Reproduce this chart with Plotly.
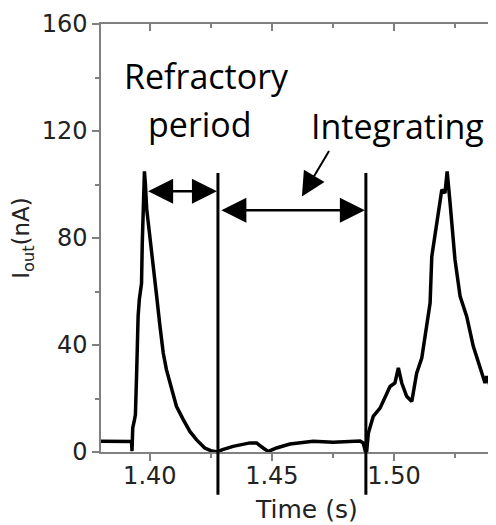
import plotly.graph_objects as go

# ---- data ----
time_s = [1.3780, 1.3850, 1.3915, 1.3925, 1.3927, 1.3930, 1.3937, 1.3941, 1.3946, 1.3949,
          1.3952, 1.3957, 1.3962, 1.3966, 1.3969, 1.3973, 1.3976, 1.3978, 1.3982, 1.3987,
          1.4000, 1.4014, 1.4028, 1.4041, 1.4055, 1.4068, 1.4089, 1.4109, 1.4137, 1.4164,
          1.4191, 1.4225, 1.4250, 1.4277,
          1.4295, 1.4341, 1.4410, 1.4437, 1.4464, 1.4485, 1.4519, 1.4574, 1.4669,
          1.4751, 1.4861, 1.4874, 1.4883, 1.4888, 1.4895, 1.4915, 1.4943, 1.4970, 1.4984,
          1.5004, 1.5018, 1.5032, 1.5052, 1.5073, 1.5093, 1.5114, 1.5134, 1.5148, 1.5155,
          1.5175, 1.5196, 1.5209, 1.5218, 1.5230, 1.5250, 1.5271, 1.5298, 1.5325, 1.5353,
          1.5373, 1.5380, 1.5400, 1.5418, 1.5434]
current_nA = [4.0, 4.1, 4.0, 3.9, 0.3, 9.0, 12.0, 14.0, 29.5, 42.0,
              50.7, 57.0, 59.5, 63.0, 78.0, 90.6, 92.0, 104.9, 100.0, 91.0,
              80.6, 68.2, 58.2, 47.5, 37.0, 30.8, 23.3, 17.1, 12.1, 7.7,
              4.6, 1.5, 0.5, 0.0,
              0.8, 2.1, 3.4, 3.4, 1.5, 0.2, 1.5, 3.0, 4.0,
              3.6, 4.1, 3.4, 0.2, 0.0, 7.0, 13.3, 16.4, 22.0, 24.5,
              25.8, 31.4, 25.8, 20.8, 18.9, 29.5, 35.1, 47.0, 55.7, 73.1,
              85.6, 98.0, 96.8, 104.9, 93.0, 71.9, 58.2, 50.7, 39.5, 32.0,
              25.8, 28.3, 23.3, 20.8, 19.0]

x_ticks = [1.40, 1.45, 1.50]
x_tick_labels = ["1.40", "1.45", "1.50"]
y_ticks = [0, 40, 80, 120, 160]
y_tick_labels = ["0", "40", "80", "120", "160"]

period_bounds = [1.4279, 1.4885]   # vertical marker lines (s)

X_RANGE = [1.38, 1.5418]
Y_RANGE = [0, 160]


def xp(t):
    return (t - X_RANGE[0]) / (X_RANGE[1] - X_RANGE[0])


def yp(v):
    return (v - Y_RANGE[0]) / (Y_RANGE[1] - Y_RANGE[0])


AX_COL = "#808080"
TICK_FONT = dict(family="DejaVu Sans", size=24, color="#222222")
ANN_FONT = dict(family="Open Sans", size=34, color="#000000")

fig = go.Figure()
fig.add_trace(go.Scatter(x=time_s, y=current_nA, mode="lines",
                         line=dict(color="black", width=3.5), hoverinfo="skip",
                         showlegend=False))
# invisible trace to activate the top axis
fig.add_trace(go.Scatter(x=time_s, y=current_nA, mode="lines", xaxis="x2",
                         line=dict(color="rgba(0,0,0,0)", width=0),
                         hoverinfo="skip", showlegend=False))

shapes = []
for t in period_bounds:
    shapes.append(dict(type="line", xref="paper", yref="paper",
                       x0=xp(t), x1=xp(t), y0=-0.1, y1=yp(104.3),
                       line=dict(color="black", width=3)))

annotations = [
    dict(text="Refractory", x=1.4232, y=140.7, xref="x", yref="y",
         showarrow=False, font=ANN_FONT, xanchor="center", yanchor="middle"),
    dict(text="period", x=1.4205, y=122.8, xref="x", yref="y",
         showarrow=False, font=ANN_FONT, xanchor="center", yanchor="middle"),
    dict(text="Integrating", x=1.5014, y=122.0, xref="x", yref="y",
         showarrow=False, font=ANN_FONT, xanchor="center", yanchor="middle"),
    # refractory double arrow
    dict(text="", x=1.4275, y=97.5, ax=1.3987, ay=97.5, xref="x", yref="y",
         axref="x", ayref="y", showarrow=True, arrowside="end+start",
         arrowhead=2, startarrowhead=2, arrowsize=2, startarrowsize=2,
         arrowwidth=2.5, arrowcolor="black", standoff=0, startstandoff=0),
    # integrating double arrow
    dict(text="", x=1.4881, y=90.4, ax=1.4287, ay=90.4, xref="x", yref="y",
         axref="x", ayref="y", showarrow=True, arrowside="end+start",
         arrowhead=2, startarrowhead=2, arrowsize=2, startarrowsize=2,
         arrowwidth=2.5, arrowcolor="black", standoff=0, startstandoff=0),
    # pointer from "Integrating"
    dict(text="", x=1.4623, y=95.5, xref="x", yref="y", ax=28, ay=-47,
         showarrow=True, arrowhead=2, arrowsize=2.4, arrowwidth=2,
         arrowcolor="black", standoff=0),
    dict(text="Time (s)", x=xp(1.4643), y=-0.135, xref="paper", yref="paper",
         showarrow=False, font=dict(family="DejaVu Sans", size=25, color="#222222"),
         xanchor="center", yanchor="middle"),
]

fig.update_layout(
    width=488, height=517,
    margin=dict(l=93, r=0, t=16, b=73),
    paper_bgcolor="white", plot_bgcolor="white",
    shapes=shapes, annotations=annotations,
    xaxis=dict(range=X_RANGE, tickvals=x_ticks, ticktext=x_tick_labels,
               ticks="outside", ticklen=7, tickwidth=1.5, tickcolor=AX_COL,
               ticklabelstandoff=-6,
               showline=True, linecolor=AX_COL, linewidth=1.5,
               showgrid=False, zeroline=False, tickfont=TICK_FONT,
               minor=dict(dtick=0.025, tick0=1.40, ticks="outside", ticklen=4,
                          tickcolor=AX_COL, tickwidth=1.5, showgrid=False)),
    xaxis2=dict(range=X_RANGE, overlaying="x", side="top", matches="x",
                tickvals=x_ticks, showticklabels=False,
                ticks="inside", ticklen=7, tickwidth=1.5, tickcolor=AX_COL,
                showline=True, linecolor=AX_COL, linewidth=1.5,
                showgrid=False, zeroline=False,
                minor=dict(dtick=0.025, tick0=1.40, ticks="inside", ticklen=4,
                           tickcolor=AX_COL, tickwidth=1.5, showgrid=False)),
    yaxis=dict(range=Y_RANGE, tickvals=y_ticks, ticktext=y_tick_labels,
               ticks="outside", ticklen=7, tickwidth=1.5, tickcolor=AX_COL,
               showline=True, linecolor=AX_COL, linewidth=1.5,
               showgrid=False, zeroline=False, tickfont=TICK_FONT,
               title=dict(text="I<sub>out</sub>(nA)", standoff=6,
                          font=dict(family="DejaVu Sans", size=23, color="#222222")),
               minor=dict(dtick=20, tick0=0, ticks="outside", ticklen=4,
                          tickcolor=AX_COL, tickwidth=1.5, showgrid=False)),
)

fig.write_html("out.html")
